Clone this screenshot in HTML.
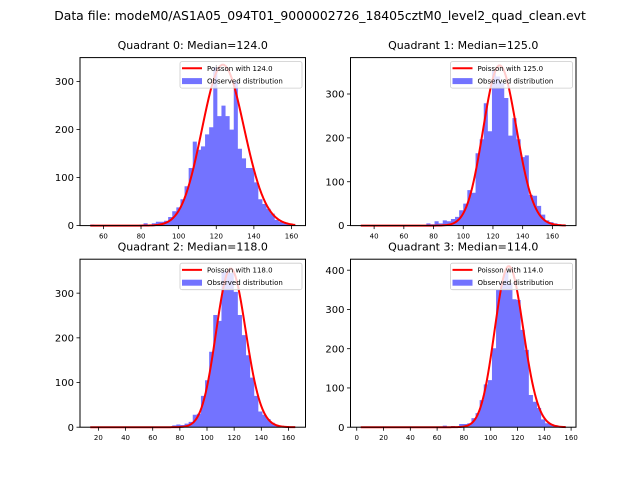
<!DOCTYPE html>
<html><head><meta charset="utf-8"><style>
body{margin:0;background:#fff}
svg{display:block;font-family:"DejaVu Sans","Liberation Sans",sans-serif}
</style></head><body>
<svg id="fig" width="640" height="480" viewBox="0 0 640 480" xmlns="http://www.w3.org/2000/svg">
<rect width="640" height="480" fill="#fff"/>
<text x="320" y="20" font-size="12.4" text-anchor="middle" fill="#000">Data file: modeM0/AS1A05_094T01_9000002726_18405cztM0_level2_quad_clean.evt</text>
</svg>
<script>
const medians=[124.0,125.0,118.0,114.0];
const binStarts=[53,31,14,3];
const binWidths=[2.18,2.76,3.02,3.06];
const counts0=[2,0,0,0,0,0,0,0,0,0,0,0,2,5,2,5,8,8,10,18,30,38,55,82,120,175,158,165,190,205,330,228,250,228,200,300,160,140,120,120,90,55,45,35,25,12,8,5,3,2];
const counts1=[1,0,0,0,0,0,0,0,0,0,0,0,0,0,0,0,5,3,10,5,12,10,15,20,35,50,81,75,165,197,279,215,354,340,325,291,205,245,197,156,160,70,68,45,25,12,8,5,3,2];
const counts2=[1,0,0,0,0,0,0,0,0,0,0,0,0,0,0,0,0,0,0,0,4,6,5,8,12,28,30,70,105,169,251,238,348,350,345,303,251,206,161,111,70,35,28,18,10,5,3,2,1,1];
const counts3=[1,0,0,0,0,0,0,0,0,0,0,0,0,0,0,0,0,0,0,0,4,0,3,0,8,8,10,23,36,69,109,120,201,351,367,396,367,326,324,248,197,82,65,49,20,10,8,5,2,1];
const curvePeaks=[335,365,355,410];
const xTicks0=[60,80,100,120,140,160];
const xTicks1=[40,60,80,100,120,140,160];
const xTicks2=[20,40,60,80,100,120,140,160];
const xTicks3=[0,20,40,60,80,100,120,140,160];
const yTicks0=[0,100,200,300];
const yTicks1=[0,100,200,300];
const yTicks2=[0,100,200,300];
const yTicks3=[0,100,200,300,400];
const yMaxes=[350,383,376,428];

const NS="http://www.w3.org/2000/svg";
const svg=document.getElementById('fig');
function mk(tag,attrs,parent){const e=document.createElementNS(NS,tag);for(const k in attrs)e.setAttribute(k,attrs[k]);(parent||svg).appendChild(e);return e;}
function lgamma(z){const g=7,c=[0.99999999999980993,676.5203681218851,-1259.1392167224028,771.32342877765313,-176.61502916214059,12.507343278686905,-0.13857109526572012,9.9843695780195716e-6,1.5056327351493116e-7];z-=1;let x=c[0];for(let i=1;i<g+2;i++)x+=c[i]/(z+i);const t=z+g+0.5;return 0.5*Math.log(2*Math.PI)+(z+0.5)*Math.log(t)-t+Math.log(x);}
function pois(k,l){return Math.exp(k*Math.log(l)-l-lgamma(k+1));}

const allCounts=[counts0,counts1,counts2,counts3];
const allX=[xTicks0,xTicks1,xTicks2,xTicks3];
const allY=[yTicks0,yTicks1,yTicks2,yTicks3];
const boxes=[[80,57.6],[350.5,57.6],[80,259.2],[350.5,259.2]];
const W=225.5,H=168;

for(let q=0;q<4;q++){
  const [bx,by]=boxes[q];
  const cnt=allCounts[q],bs=binStarts[q],bw=binWidths[q];
  const dmin=bs,dmax=bs+bw*cnt.length,pad=(dmax-dmin)*0.05;
  const xmin=dmin-pad,xmax=dmax+pad,ymax=yMaxes[q];
  const X=v=>bx+(v-xmin)/(xmax-xmin)*W;
  const Y=v=>by+H-v/ymax*H;
  const g=mk('g',{});
  
  
  let hd='M'+X(bs).toFixed(2)+','+Y(0).toFixed(2);
  cnt.forEach((c,i)=>{
    hd+='L'+X(bs+i*bw).toFixed(2)+','+Y(c).toFixed(2)+'L'+X(bs+(i+1)*bw).toFixed(2)+','+Y(c).toFixed(2);
  });
  hd+='L'+X(dmax).toFixed(2)+','+Y(0).toFixed(2)+'Z';
  const hp=mk('path',{d:hd,fill:'#0000ff','fill-opacity':0.55,stroke:'none'},g);
  
  
  const lam=medians[q],scale=curvePeaks[q]/pois(Math.round(lam),lam);
  let d='';
  for(let k=Math.ceil(dmin);k<=Math.floor(dmax);k++){const v=pois(k,lam)*scale;d+=(d?'L':'M')+X(k).toFixed(2)+','+Y(v).toFixed(2);}
  const p=mk('path',{d:d,fill:'none',stroke:'#ff0000','stroke-width':2},g);
  
  
  const f=mk('rect',{x:bx,y:by,width:W,height:H,fill:'none',stroke:'#000','stroke-width':1},g);
  
  
  allX[q].forEach(t=>{
    const x=X(t);
    mk('line',{x1:x,y1:by+H,x2:x,y2:by+H+3.5,stroke:'#000','stroke-width':0.8},g);
    const tx=mk('text',{x:x,y:by+H+13,'font-size':7,'text-anchor':'middle',fill:'#000'},g);
    tx.textContent=t;
    
    
  });
  allY[q].forEach(t=>{
    const y=Y(t);
    mk('line',{x1:bx-3.5,y1:y,x2:bx,y2:y,stroke:'#000','stroke-width':0.8},g);
    const tx=mk('text',{x:bx-6,y:y+3.6,'font-size':10,'text-anchor':'end',fill:'#000'},g);
    tx.textContent=t;
    
    
  });
  const tt=mk('text',{x:bx+W/2,y:by-8.5,'font-size':11,'text-anchor':'middle',fill:'#000'},g);
  tt.textContent='Quadrant '+q+': Median='+medians[q].toFixed(1);
  
  
  const lx=bx+W-125.5,ly=by+4;
  const lg=mk('g',{},g);
  
  
  mk('rect',{x:lx,y:ly,width:122,height:26.5,rx:2,fill:'#fff','fill-opacity':0.8,stroke:'#ccc','stroke-width':0.8},lg);
  mk('line',{x1:lx+2,y1:ly+6.7,x2:lx+22,y2:ly+6.7,stroke:'#ff0000','stroke-width':2},lg);
  mk('rect',{x:lx+2,y:ly+16.5,width:20,height:6,fill:'#0000ff','fill-opacity':0.55},lg);
  const t1=mk('text',{x:lx+27,y:ly+9.2,'font-size':7,fill:'#000'},lg);
  t1.textContent='Poisson with '+medians[q].toFixed(1);
  
  
  const t2=mk('text',{x:lx+27,y:ly+22,'font-size':7,fill:'#000'},lg);
  t2.textContent='Observed distribution';
  
  
}
</script>
</body></html>
